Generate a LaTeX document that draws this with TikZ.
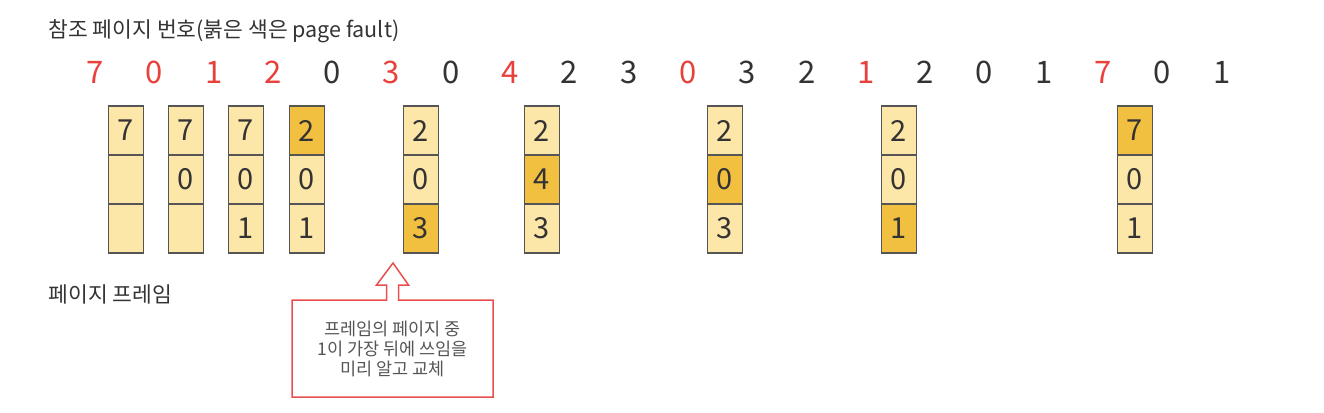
\documentclass[tikz,border=0pt]{standalone}
\usepackage{fontspec}
\usepackage{tikz}
\usetikzlibrary{calc}
\newfontfamily\krfont{Noto Sans CJK KR}
\definecolor{faultred}{RGB}{232,64,58}
\definecolor{refgray}{RGB}{51,51,51}
\definecolor{celllight}{RGB}{252,230,168}
\definecolor{celldark}{RGB}{242,192,64}
\definecolor{celledge}{RGB}{85,85,85}
\definecolor{notered}{RGB}{232,80,80}
\definecolor{notegray}{RGB}{85,85,85}

\begin{document}
\begin{tikzpicture}[
    x=1pt, y=-1pt,
    every node/.style={font=\krfont},
    refnum/.style={font=\krfont\fontsize{31}{31}\selectfont, text=refgray},
    fault/.style={refnum, text=faultred},
    cell/.style={draw=celledge, line width=1.2pt, fill=celllight, minimum width=35pt, minimum height=49pt, inner sep=0pt, outer sep=0pt, font=\krfont\fontsize{29}{29}\selectfont, text=refgray},
    hit/.style={cell, fill=celldark},
    caption/.style={anchor=west, font=\krfont\fontsize{21.5}{21.5}\selectfont, text=refgray},
    notebox/.style={minimum width=201pt, minimum height=97pt, outer sep=0pt, align=center, text=notegray, font=\krfont\fontsize{17.5}{20}\selectfont},
]
    \useasboundingbox (0,0) rectangle (1324,412);

    \node[caption] (title) at (45,31) {참조 페이지 번호(붉은 색은 page fault)};

    % reference string
    \foreach \v/\s [count=\i from 0] in {7/fault,0/fault,1/fault,2/fault,0/refnum,3/fault,0/refnum,4/fault,2/refnum,3/refnum,0/fault,3/refnum,2/refnum,1/fault,2/refnum,0/refnum,1/refnum,7/fault,0/refnum,1/refnum}
        \node[\s] (r\i) at ({95+59.3*\i},72) {\v};

    % frames after each fault
    \foreach \x/\a/\sa/\b/\sb/\c/\sc [count=\k] in {126/7/cell/{}/cell/{}/cell, 186/7/cell/0/cell/{}/cell, 246/7/cell/0/cell/1/cell, 307/2/hit/0/cell/1/cell, 421/2/cell/0/cell/3/hit, 542/2/cell/4/hit/3/cell, 725/2/cell/0/hit/3/cell, 899/2/cell/0/cell/1/hit, 1135/7/hit/0/cell/1/cell} {
        \node[\sa] (c\k-1) at (\x,130.5) {\a};
        \node[\sb] (c\k-2) at (\x,179.5) {\b};
        \node[\sc] (c\k-3) at (\x,228.5) {\c};
    }

    \node[caption] (framecap) at (45,294) {페이지 프레임};

    \node[notebox] (note) at (392.5,348.5) {프레임의 페이지 중\\1이 가장 뒤에 쓰임을\\미리 알고 교체};
    \coordinate (tip) at (393,263);
    \draw[notered, line width=1.5pt] (note.north west) -- ($(note.north)+(-6,0)$) -- ++(0,-15) -- ++(-10,0) -- (tip)
        -- ($(note.north)+(16,-15)$) -- ++(-10,0) -- ++(0,15) -- (note.north east) -- (note.south east) -- (note.south west) -- cycle;
\end{tikzpicture}
\end{document}
